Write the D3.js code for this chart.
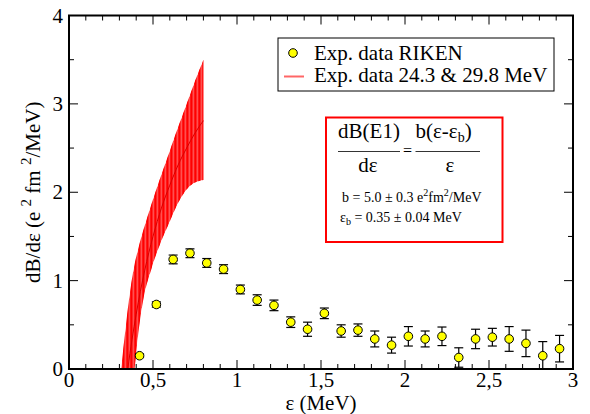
<!DOCTYPE html>
<html><head><meta charset="utf-8">
<script src="https://cdn.jsdelivr.net/npm/d3@7"></script>
<style>
body{margin:0;background:#fff;}
</style></head>
<body><svg id="c" width="590" height="414"></svg>
<script>
// RIKEN data
const rikenE = [0.42,0.52,0.62,0.72,0.82,0.92,1.02,1.12,1.22,1.32,1.42,1.52,1.62,1.72,1.82,1.92,2.02,2.12,2.22,2.32,2.42,2.52,2.62,2.72,2.82,2.92];
const rikenY = [0.15,0.73,1.24,1.31,1.20,1.13,0.90,0.78,0.72,0.53,0.45,0.63,0.43,0.44,0.34,0.27,0.37,0.34,0.37,0.13,0.34,0.36,0.34,0.29,0.15,0.23];
const rikenErr = [0.02,0.03,0.05,0.05,0.05,0.05,0.05,0.06,0.06,0.06,0.08,0.06,0.07,0.07,0.09,0.09,0.11,0.09,0.105,0.11,0.11,0.10,0.14,0.15,0.16,0.15];
// band (24.3 & 29.8 MeV): upper edge, lower edge, central line
const bandHighE = [0.30, 0.31, 0.33, 0.35, 0.38, 0.42, 0.46, 0.50, 0.55, 0.60, 0.65, 0.70, 0.75, 0.80];
const bandHigh  = [-0.15,0.00, 0.35, 0.68, 1.08, 1.42, 1.68, 1.92, 2.20, 2.47, 2.74, 3.00, 3.26, 3.50];
const bandLowE  = [0.38, 0.39, 0.41, 0.44, 0.49, 0.55, 0.60, 0.65, 0.70, 0.75, 0.80];
const bandLow   = [-0.15,0.00, 0.36, 0.76, 1.13, 1.45, 1.67, 1.88, 2.03, 2.11, 2.14];
const bandMidE  = [0.34, 0.35, 0.40, 0.45, 0.50, 0.55, 0.60, 0.65, 0.70, 0.75, 0.80];
const bandMid   = [-0.15,0.00, 0.62, 1.11, 1.50, 1.82, 2.08, 2.31, 2.50, 2.67, 2.81];
// ticks
const xTicks = [0,0.5,1,1.5,2,2.5,3];
const xTickLabels = ["0","0,5","1","1,5","2","2,5","3"];
const yTicks = [0,1,2,3,4];
const yTickLabels = ["0","1","2","3","4"];

const FONT = '"Liberation Serif"';
const svg = d3.select("#c");
const L=69, R=573, T=15.5, B=369;
const x = d3.scaleLinear().domain([0,3]).range([L,R]);
const y = d3.scaleLinear().domain([0,4]).range([B,T]);

const defs = svg.append("defs");
defs.append("clipPath").attr("id","plotclip")
  .append("rect").attr("x",L).attr("y",T).attr("width",R-L).attr("height",B-T);

// band polygon: upper edge forward, lower edge backward
const lineGen = d3.line().curve(d3.curveMonotoneX);
const upPath = lineGen(bandHighE.map((e,i)=>[x(e), y(bandHigh[i])]));
const loMir = lineGen(bandLowE.map((e,i)=>[-x(e), y(bandLow[i])]).reverse());
const unMirror = s => s.replace(/([MCL])([^MCLZ]*)/g,(m,cmd,args)=>{
  const nums = args.split(/[ ,]+/).filter(t=>t.length).map(Number);
  const out=[];
  for(let i=0;i<nums.length;i+=2){ out.push((-nums[i])+","+nums[i+1]); }
  return cmd+out.join(",");
});
const bandPathD = upPath + unMirror(loMir).replace(/^M/,"L") + "Z";
defs.append("clipPath").attr("id","bandclip").append("path").attr("d", bandPathD);

const gBand = svg.append("g").attr("clip-path","url(#plotclip)");
const gB2 = gBand.append("g").attr("clip-path","url(#bandclip)");
gB2.append("path").attr("d", bandPathD).attr("fill","#ff5050");
const hatchX = d3.range(x(bandHighE[0]), x(0.8)+2, 4);
gB2.selectAll("line.h").data(hatchX).join("line")
  .attr("x1",d=>d).attr("x2",d=>d).attr("y1",T).attr("y2",B)
  .attr("stroke","#ff0000").attr("stroke-width",2.2);
gBand.append("path")
  .attr("d", d3.line().x(e=>x(e)).y((e,i)=>y(bandMid[i])).curve(d3.curveMonotoneX)(bandMidE))
  .attr("fill","none").attr("stroke","#d80000").attr("stroke-width",1);

// axes frame and ticks
const frame = svg.append("g");
const minorX = d3.range(0,3.0001,0.1).map(v=>+v.toFixed(2));
const minorY = d3.range(0,4.0001,0.5).map(v=>+v.toFixed(2));
const isMajorX = v => Math.abs(v*2 - Math.round(v*2))<1e-6;
const isMajorY = v => Math.abs(v - Math.round(v))<1e-6;
minorX.forEach(v=>{
  const len = isMajorX(v)?9:5;
  frame.append("line").attr("x1",x(v)).attr("x2",x(v)).attr("y1",B).attr("y2",B-len).attr("stroke","#000").attr("stroke-width",1);
  frame.append("line").attr("x1",x(v)).attr("x2",x(v)).attr("y1",T).attr("y2",T+len).attr("stroke","#000").attr("stroke-width",1);
});
minorY.forEach(v=>{
  const len = isMajorY(v)?9:5;
  frame.append("line").attr("x1",L).attr("x2",L+len).attr("y1",y(v)).attr("y2",y(v)).attr("stroke","#000").attr("stroke-width",1);
  frame.append("line").attr("x1",R).attr("x2",R-len).attr("y1",y(v)).attr("y2",y(v)).attr("stroke","#000").attr("stroke-width",1);
});
frame.append("rect").attr("x",L).attr("y",T).attr("width",R-L).attr("height",B-T)
  .attr("fill","none").attr("stroke","#000").attr("stroke-width",2);

const T_ = sel => sel.style("font-family", FONT).attr("fill","#000");

svg.append("g").selectAll("text").data(xTicks).join("text")
  .attr("x",d=>x(d)).attr("y",B+18).attr("text-anchor","middle").attr("font-size",21)
  .call(T_).text((d,i)=>xTickLabels[i]);
svg.append("g").selectAll("text").data(yTicks).join("text")
  .attr("x",L-6).attr("y",d=>y(d)+7).attr("text-anchor","end").attr("font-size",21)
  .call(T_).text((d,i)=>yTickLabels[i]);

// axis titles
svg.append("text").attr("x",(L+R)/2).attr("y",410).attr("text-anchor","middle").attr("font-size",21)
  .call(T_).text("ε  (MeV)");
const yl = svg.append("text").attr("transform",`translate(40,${(T+B)/2}) rotate(-90)`)
  .attr("text-anchor","middle").attr("font-size",21).call(T_);
yl.append("tspan").text("dB/dε (e ");
yl.append("tspan").attr("font-size",15).attr("dy",-9).text("2");
yl.append("tspan").attr("dy",9).text(" fm ");
yl.append("tspan").attr("font-size",15).attr("dy",-9).text("2");
yl.append("tspan").attr("dy",9).text("/MeV)");

// RIKEN points
const pts = rikenE.map((e,i)=>({e, v:rikenY[i], err:rikenErr[i]}));
const gP = svg.append("g").attr("clip-path","url(#plotclip)");
gP.selectAll("line.eb").data(pts).join("line")
  .attr("x1",d=>x(d.e)).attr("x2",d=>x(d.e)).attr("y1",d=>y(d.v-d.err)).attr("y2",d=>y(d.v+d.err))
  .attr("stroke","#000").attr("stroke-width",1.2);
["lo","hi"].forEach(k=>{
  gP.selectAll("line.cap"+k).data(pts).join("line")
    .attr("x1",d=>x(d.e)-4.5).attr("x2",d=>x(d.e)+4.5)
    .attr("y1",d=>y(k==="lo"?d.v-d.err:d.v+d.err)).attr("y2",d=>y(k==="lo"?d.v-d.err:d.v+d.err))
    .attr("stroke","#000").attr("stroke-width",1.2);
});
gP.selectAll("circle").data(pts).join("circle")
  .attr("cx",d=>x(d.e)).attr("cy",d=>y(d.v)).attr("r",4.3)
  .attr("fill","#ffff00").attr("stroke","#000").attr("stroke-width",1);

// legend
const lg = svg.append("g");
lg.append("rect").attr("x",278).attr("y",38).attr("width",276).attr("height",53)
  .attr("fill","#fff").attr("stroke","#000").attr("stroke-width",1);
lg.append("circle").attr("cx",293).attr("cy",53).attr("r",4.3).attr("fill","#ffff00").attr("stroke","#000");
lg.append("text").attr("x",314).attr("y",59.5).attr("font-size",21).call(T_).text("Exp. data RIKEN");
lg.append("line").attr("x1",284).attr("x2",304).attr("y1",76.5).attr("y2",76.5).attr("stroke","#ff6666").attr("stroke-width",2);
lg.append("text").attr("x",314).attr("y",82).attr("font-size",21).call(T_).text("Exp. data 24.3 & 29.8 MeV");

// formula box
const fb = svg.append("g");
fb.append("rect").attr("x",326).attr("y",117.5).attr("width",176.5).attr("height",124.5)
  .attr("fill","#fff").attr("stroke","#ff0000").attr("stroke-width",2);
fb.append("text").attr("x",369).attr("y",138).attr("text-anchor","middle").attr("font-size",21).call(T_).text("dB(E1)");
fb.append("line").attr("x1",338).attr("x2",400).attr("y1",151.5).attr("y2",151.5).attr("stroke","#000").attr("stroke-width",0.8);
fb.append("text").attr("x",368).attr("y",172).attr("text-anchor","middle").attr("font-size",21).call(T_).text("dε");
fb.append("text").attr("x",407.5).attr("y",156).attr("text-anchor","middle").attr("font-size",16).call(T_).text("=");
const num = fb.append("text").attr("x",415.5).attr("y",138).attr("font-size",21).call(T_);
num.append("tspan").text("b(ε-ε");
num.append("tspan").attr("font-size",14).attr("dy",4).text("b");
num.append("tspan").attr("dy",-4).text(")");
fb.append("line").attr("x1",415.5).attr("x2",480).attr("y1",151.5).attr("y2",151.5).attr("stroke","#000").attr("stroke-width",0.8);
fb.append("text").attr("x",450).attr("y",172).attr("text-anchor","middle").attr("font-size",21).call(T_).text("ε");
const l1 = fb.append("text").attr("x",342).attr("y",201.5).attr("font-size",14).call(T_);
l1.append("tspan").text("b = 5.0 ± 0.3 e");
l1.append("tspan").attr("font-size",10).attr("dy",-6).text("2");
l1.append("tspan").attr("dy",6).text("fm");
l1.append("tspan").attr("font-size",10).attr("dy",-6).text("2");
l1.append("tspan").attr("dy",6).text("/MeV");
const l2 = fb.append("text").attr("x",340).attr("y",222).attr("font-size",14).call(T_);
l2.append("tspan").text("ε");
l2.append("tspan").attr("font-size",10).attr("dy",3).text("b");
l2.append("tspan").attr("dy",-3).text(" = 0.35 ± 0.04 MeV");
</script></body></html>
